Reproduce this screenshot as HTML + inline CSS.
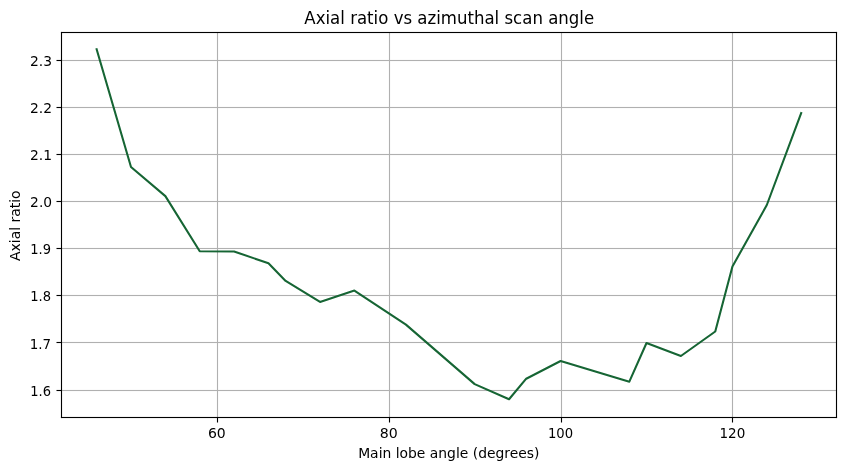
<!DOCTYPE html>
<html lang="en">
<head>
<meta charset="utf-8">
<title>Axial ratio vs azimuthal scan angle</title>
<style>
html,body{margin:0;padding:0;background:#fff;}
svg{display:block;}
text{font-family:"DejaVu Sans", "Liberation Sans", sans-serif;fill:#000;}
.tick{font-size:13.889px;}
.lab{font-size:13.889px;}
.title{font-size:16.667px;}
.grid rect{fill:#b0b0b0;}
.axis rect{fill:#000;}
</style>
</head>
<body>
<svg width="846" height="470" viewBox="0 0 846 470">
<rect x="0" y="0" width="846" height="470" fill="#ffffff"/>
<defs><clipPath id="ax"><rect x="61.4" y="31.72" width="775" height="385"/></clipPath></defs>
<g class="grid">
<rect x="216.944" y="32.5" width="1.1111" height="385"/>
<rect x="388.944" y="32.5" width="1.1111" height="385"/>
<rect x="560.944" y="32.5" width="1.1111" height="385"/>
<rect x="731.944" y="32.5" width="1.1111" height="385"/>
<rect x="61.5" y="59.944" width="775" height="1.1111"/>
<rect x="61.5" y="106.944" width="775" height="1.1111"/>
<rect x="61.5" y="153.944" width="775" height="1.1111"/>
<rect x="61.5" y="200.944" width="775" height="1.1111"/>
<rect x="61.5" y="247.944" width="775" height="1.1111"/>
<rect x="61.5" y="294.944" width="775" height="1.1111"/>
<rect x="61.5" y="341.944" width="775" height="1.1111"/>
<rect x="61.5" y="389.944" width="775" height="1.1111"/>
</g>
<polyline clip-path="url(#ax)" fill="none" stroke="#166534" stroke-width="2.0833" stroke-linejoin="round" stroke-linecap="square" points="96.63,49.22 131.00,167.00 165.37,196.10 199.73,251.28 234.10,251.47 268.47,263.30 285.65,280.90 320.02,301.90 354.39,290.60 405.94,324.60 474.68,384.15 509.05,399.22 526.23,378.70 560.60,361.00 629.34,381.70 646.52,343.00 680.89,356.00 715.26,331.50 732.44,266.50 766.81,205.00 801.18,113.10"/>
<g class="axis">
<rect x="216.944" y="417.5" width="1.1111" height="5"/>
<rect x="388.944" y="417.5" width="1.1111" height="5"/>
<rect x="560.944" y="417.5" width="1.1111" height="5"/>
<rect x="731.944" y="417.5" width="1.1111" height="5"/>
<rect x="56.5" y="59.944" width="5" height="1.1111"/>
<rect x="56.5" y="106.944" width="5" height="1.1111"/>
<rect x="56.5" y="153.944" width="5" height="1.1111"/>
<rect x="56.5" y="200.944" width="5" height="1.1111"/>
<rect x="56.5" y="247.944" width="5" height="1.1111"/>
<rect x="56.5" y="294.944" width="5" height="1.1111"/>
<rect x="56.5" y="341.944" width="5" height="1.1111"/>
<rect x="56.5" y="389.944" width="5" height="1.1111"/>
<rect x="60.944" y="31.944" width="1.1111" height="386.111"/>
<rect x="835.944" y="31.944" width="1.1111" height="386.111"/>
<rect x="60.944" y="31.944" width="776.111" height="1.1111"/>
<rect x="60.944" y="416.944" width="776.111" height="1.1111"/>
</g>
<g class="tick" text-anchor="middle">
<text transform="translate(216.82,438.00) scale(1.0100,1.0000)">60</text>
<text transform="translate(388.66,438.00) scale(1.0200,1.0300)">80</text>
<text transform="translate(560.50,438.00) scale(0.9500,1.0450)">100</text>
<text transform="translate(732.34,438.00) scale(0.9750,1.0300)">120</text>
</g>
<g class="tick" text-anchor="end">
<text transform="translate(52.08,66.00) scale(1.0000,1.0450)">2.3</text>
<text transform="translate(52.08,113.00) scale(1.0000,1.0300)">2.2</text>
<text transform="translate(52.08,160.00) scale(1.0000,1.0400)">2.1</text>
<text transform="translate(52.08,207.00) scale(0.9950,1.0400)">2.0</text>
<text transform="translate(51.08,254.00) scale(0.9400,1.0100)">1.9</text>
<text transform="translate(51.08,301.00) scale(0.9450,1.0150)">1.8</text>
<text transform="translate(51.08,348.50) scale(0.9700,1.0200)">1.7</text>
<text transform="translate(51.08,396.00) scale(0.9400,1.0200)">1.6</text>
</g>
<text class="lab" text-anchor="middle" transform="translate(448.80,458.30) scale(1.0000,1.0500)">Main lobe angle (degrees)</text>
<text class="lab" text-anchor="middle" transform="translate(20.20,225.70) rotate(-90) scale(1.0050,0.9800)">Axial ratio</text>
<text class="title" text-anchor="middle" transform="translate(449.25,24.00) scale(0.9950,1.0800)">Axial ratio vs azimuthal scan angle</text>
</svg>
</body>
</html>
